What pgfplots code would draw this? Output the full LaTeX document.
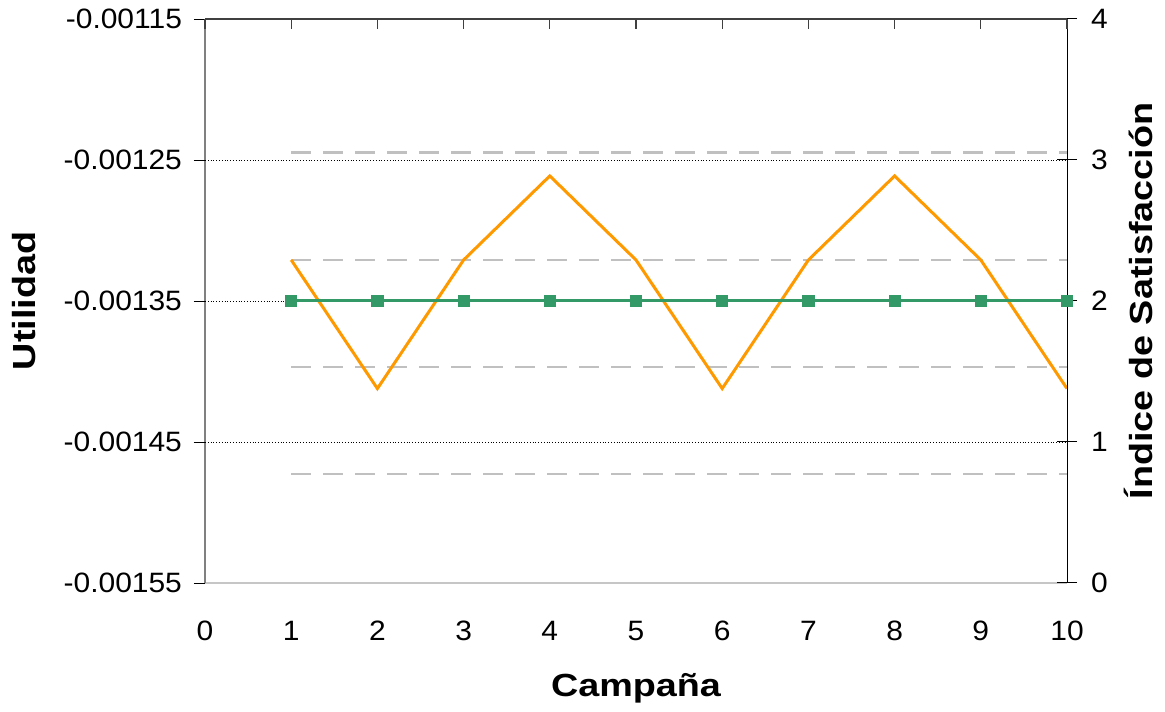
\documentclass[border=0pt]{standalone}
\usepackage{fontspec}
\setmainfont{Liberation Sans}[FakeStretch=1.07]
\newfontfamily\labfont[FakeStretch=1.18]{Liberation Sans}
\usepackage{pgfplots}
\pgfplotsset{compat=1.18}

\definecolor{naranja}{HTML}{FF9900}
\definecolor{verde}{HTML}{339966}
\definecolor{limite}{HTML}{C0C0C0}

\pgfplotsset{
  base/.style={
    scale only axis, width=431pt, height=282pt,
    xmin=0, xmax=10,
    tick label style={font=\fontsize{14}{16}\selectfont},
    /pgf/number format/assume math mode=true,
    label style={font=\labfont\bfseries\fontsize{16}{19}\selectfont},
  },
}

\begin{document}
\begin{tikzpicture}
% eje izquierdo: Utilidad
\begin{axis}[base,
  ymin=-0.00155, ymax=-0.00115,
  axis x line*=bottom, axis y line*=left,
  x axis line style={gray!45, line width=0.6pt, -},
  y axis line style={gray, line width=1pt, -},
  xtick={0,...,10},
  x tick style={draw=none},
  ytick={-0.00155,-0.00145,-0.00135,-0.00125,-0.00115},
  y tick style={black, line width=0.5pt},
  tick align=outside, major tick length=5.5pt,
  scaled y ticks=false,
  yticklabel style={xshift=-2.5pt, /pgf/number format/.cd, fixed, fixed zerofill, precision=5},
  extra y ticks={-0.00145,-0.00135,-0.00125},
  extra y tick labels={},
  extra y tick style={grid=major, major grid style={black, densely dotted, line width=0.5pt}},
  xticklabel style={yshift=-10pt},
  xlabel={Campaña},
  xlabel style={at={(axis description cs:0.5,-0.186)}, anchor=center},
  ylabel={Utilidad},
  ylabel style={at={(axis description cs:-0.21,0.5)}, anchor=center},
]
\addplot[limite, line width=1.25pt, dash pattern=on 10pt off 6pt] coordinates {(1,-0.0012448)(10,-0.0012448)};
\addplot[limite, line width=1.25pt, dash pattern=on 10pt off 6pt] coordinates {(1,-0.0013209)(10,-0.0013209)};
\addplot[limite, line width=1.25pt, dash pattern=on 10pt off 6pt] coordinates {(1,-0.0013968)(10,-0.0013968)};
\addplot[limite, line width=1.25pt, dash pattern=on 10pt off 6pt] coordinates {(1,-0.0014727)(10,-0.0014727)};
\addplot[naranja, line width=1.5pt, mark=none] coordinates {
  (1,-0.0013209)(2,-0.0014121)(3,-0.0013209)(4,-0.0012613)(5,-0.0013209)
  (6,-0.0014121)(7,-0.0013209)(8,-0.0012613)(9,-0.0013209)(10,-0.0014121)
};
\end{axis}

% eje derecho: Indice de Satisfaccion
\begin{axis}[base,
  ymin=0, ymax=4, ytick={0,...,4},
  axis y line*=right, axis x line=none, xtick=\empty,
  y axis line style={black, line width=0.5pt, -},
  tick align=center, major tick length=10pt,
  y tick style={black, line width=0.5pt},
  yticklabel style={xshift=3.5pt},
  ylabel={Índice de Satisfacción},
  ylabel style={at={(axis description cs:1.0824,0.5)}, anchor=center},
]
\addplot[verde, line width=1.5pt, mark=square*, mark size=2.3pt] coordinates {
  (1,2)(2,2)(3,2)(4,2)(5,2)(6,2)(7,2)(8,2)(9,2)(10,2)
};
\end{axis}

% borde superior con marcas hacia dentro
\begin{axis}[base,
  ymin=0, ymax=1, ytick=\empty,
  axis x line*=top, axis y line=none,
  xtick={0,...,10}, xticklabels={},
  tick align=inside, major tick length=5pt,
  x axis line style={black!75, line width=0.6pt, -},
  x tick style={black!75, line width=0.6pt},
]
\end{axis}

\path (-102.5pt,-64pt) rectangle (480pt,291.5pt);
\end{tikzpicture}
\end{document}
